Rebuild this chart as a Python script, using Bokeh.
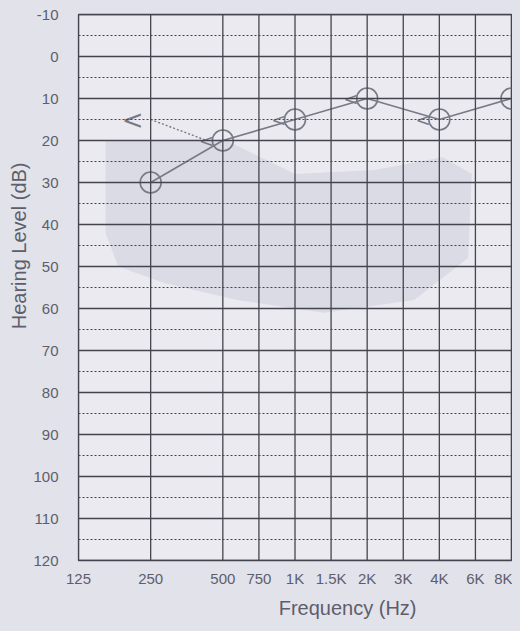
from bokeh.plotting import figure
from bokeh.models import Range1d, FixedTicker, Span, ColumnDataSource, Title
from bokeh.core.properties import value
from bokeh.embed import file_html
from bokeh.resources import INLINE

# ---- data ----
freq_labels = ["125", "250", "500", "750", "1K", "1.5K", "2K", "3K", "4K", "6K", "8K"]
freq_pos = [0, 2, 4, 5, 6, 7, 8, 9, 10, 11, 12]   # half-octave audiogram positions
air_pos = [2, 4, 6, 8, 10, 12]                     # 250, 500, 1K, 2K, 4K, 8K
air_db = [30, 20, 15, 10, 15, 10]
bone_pos = [2, 4, 6, 8, 10]                        # 250, 500, 1K, 2K, 4K
bone_db = [15, 20, 15, 10, 15]
db_ticks = list(range(-10, 130, 10))
db_labels = [str(d) for d in db_ticks]
# speech banana outline (position, dB)
banana_pos = [0.75, 2.0, 4.1, 6.0, 8.2, 10.1, 10.9, 10.8, 9.3, 6.8, 4.4, 2.4, 1.1, 0.75]
banana_db = [20, 20, 20, 28, 27, 24, 28, 48, 58, 61, 58, 54, 50, 42]

BG = "#e2e2ea"
GRID = "#45454f"
MARK = "#7a7a86"
TXT = "#5e5e6a"
FONT = "Liberation Sans"

p = figure(width=512, height=623, output_backend="svg", toolbar_location=None,
           x_range=Range1d(0, 12), y_range=Range1d(120, -10),
           min_border_left=78, min_border_right=1, min_border_top=14, min_border_bottom=62,
           background_fill_color="#eaeaf0", border_fill_color=BG,
           outline_line_color=GRID, outline_line_width=1.3)

p.xgrid.grid_line_color = None
p.ygrid.grid_line_color = None

# banana
p.patch(banana_pos, banana_db, fill_color="#d8d8e3", fill_alpha=0.85, line_color=None)

# grid
for fp in freq_pos:
    p.add_layout(Span(location=fp, dimension="height", line_color=GRID, line_width=1.3))
for d in range(-10, 121, 5):
    if d % 10 == 0:
        p.add_layout(Span(location=d, dimension="width", line_color=GRID, line_width=1.3))
    else:
        p.add_layout(Span(location=d, dimension="width", line_color=GRID, line_width=1.2,
                          line_dash="2 2"))

# air conduction
p.line(air_pos, air_db, line_color=MARK, line_width=1.6)
p.scatter(air_pos, air_db, marker="circle", size=21, fill_color=None,
          line_color=MARK, line_width=1.6)

# bone conduction
shift = -0.45
bx = [b + shift for b in bone_pos]
p.line([bone_pos[0], bx[1]], bone_db[:2], line_color=MARK, line_width=1.4, line_dash="2 2")
src = ColumnDataSource(dict(x=bx[1:], y=bone_db[1:], t=["<"] * (len(bx) - 1)))
p.text(x="x", y="y", text="t", source=src, text_align="center", text_baseline="middle",
       text_font=value("DejaVu Sans"), text_font_size="18px", text_color=MARK)
p.text(x=[bone_pos[0] - 0.5], y=[bone_db[0]], text=["<"], text_align="center",
       text_baseline="middle", text_font=value("DejaVu Sans"), text_font_size="26px",
       text_color=MARK)

# axes
p.xaxis.ticker = FixedTicker(ticks=freq_pos)
p.xaxis.major_label_overrides = {fp: lab for fp, lab in zip(freq_pos, freq_labels)}
p.yaxis.ticker = FixedTicker(ticks=db_ticks)
p.yaxis.major_label_overrides = {d: lab for d, lab in zip(db_ticks, db_labels)}
for ax in (p.xaxis[0], p.yaxis[0]):
    ax.axis_line_color = None
    ax.major_tick_line_color = None
    ax.minor_tick_line_color = None
    ax.major_label_text_color = TXT
    ax.major_label_text_font = FONT
    ax.major_label_text_font_size = "15px"
p.yaxis.major_label_standoff = 14
p.xaxis.major_label_standoff = 3

# axis titles, offset along the axis as in the reference
p.add_layout(Title(text="Frequency (Hz)", align="right", offset=95, text_font=FONT,
                   text_font_size="20px", text_font_style="normal", text_color=TXT,
                   standoff=10), "below")
p.add_layout(Title(text="Hearing Level (dB)", align="right", offset=148, text_font=FONT,
                   text_font_size="20px", text_font_style="normal", text_color=TXT,
                   standoff=2), "left")

html = file_html(p, INLINE)
html = html.replace("<head>", "<head><style>body{background:%s}</style>" % BG, 1)
open("out.html", "w").write(html)
